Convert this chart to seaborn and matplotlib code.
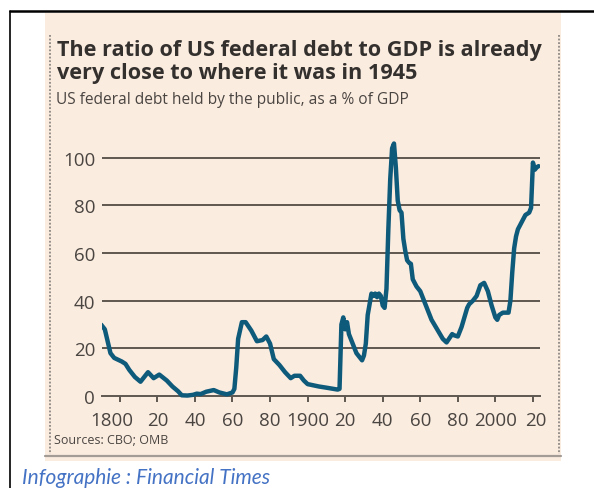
import matplotlib
matplotlib.use("Agg")
import matplotlib.pyplot as plt
import matplotlib.transforms as mtransforms
from matplotlib.lines import Line2D
from matplotlib.patches import Rectangle
import pandas as pd
import seaborn as sns

# US federal debt held by the public, % of GDP
years = [1790, 1792, 1795, 1797, 1801, 1803, 1805, 1808, 1811, 1813, 1815, 1818,
         1821, 1825, 1828, 1831, 1833, 1836, 1839, 1841, 1843, 1846, 1850, 1853,
         1857, 1860, 1861, 1862, 1863, 1865, 1867, 1870, 1873, 1876, 1878, 1880,
         1882, 1885, 1888, 1891, 1893, 1896, 1898, 1900, 1903, 1906, 1910, 1916,
         1917, 1918, 1919, 1920, 1921, 1922, 1926, 1929, 1930, 1931, 1932, 1934,
         1935, 1936, 1937, 1938, 1939, 1940, 1941, 1942, 1943, 1944, 1945, 1946,
         1947, 1948, 1949, 1950, 1951, 1952, 1953, 1954, 1955, 1956, 1958, 1960,
         1963, 1966, 1969, 1972, 1974, 1977, 1978, 1980, 1982, 1985, 1986, 1988,
         1990, 1992, 1994, 1996, 1998, 2000, 2001, 2002, 2004, 2007, 2008, 2009,
         2010, 2011, 2012, 2014, 2016, 2018, 2019, 2020, 2021, 2022, 2023]
debt = [30, 28, 18, 16, 14.5, 13.5, 11, 8, 6, 8, 10, 7.5,
        9, 6.5, 4, 2, 0.3, 0.2, 0.5, 1, 0.8, 1.8, 2.5, 1.5,
        0.7, 1.5, 3, 12, 24, 31, 31, 27.5, 23, 23.5, 25, 22,
        15.5, 13, 10, 7.5, 8.5, 8.5, 6.5, 5, 4.5, 4, 3.5, 2.7,
        3, 30, 33, 28, 31, 26, 18, 15, 17, 22, 34, 43,
        42, 43, 41.5, 43, 42, 38, 37, 45, 70, 91, 104, 106,
        96, 82, 78, 77, 66, 61, 57, 56, 55.5, 49, 46, 44,
        38, 32, 28, 24, 22.5, 26, 25.5, 25, 29, 37, 38.5, 40,
        42, 46.5, 47.5, 44, 38, 33, 32, 34, 35, 35, 40, 52,
        62, 67, 70, 73, 76, 77, 79, 98, 95, 96, 96.5]

x_ticks = [1800, 1820, 1840, 1860, 1880, 1900, 1920, 1940, 1960, 1980, 2000, 2020]
x_labels = ["1800", "20", "40", "60", "80", "1900", "20", "40", "60", "80", "2000", "20"]
y_ticks = [0, 20, 40, 60, 80, 100]

df = pd.DataFrame({"year": years, "debt": debt})

sns.set_theme(style="white")
plt.rcParams["font.family"] = ["Open Sans", "DejaVu Sans"]

bg = "#fbece0"
grid_col = "#5e5751"
text_col = "#33302e"

fig = plt.figure(figsize=(5.94, 4.89), dpi=100)
fig.patch.set_facecolor("white")

# beige panel and frame
fig.patches.append(Rectangle((45 / 594, 1 - 462 / 489), 516 / 594, 448 / 489,
                             transform=fig.transFigure, facecolor=bg, edgecolor="none",
                             zorder=-10))
fig.add_artist(Line2D([10 / 594, 1], [1 - 12 / 489, 1 - 12 / 489], transform=fig.transFigure,
                      color="black", lw=1.8))
fig.add_artist(Line2D([10 / 594, 10 / 594], [0, 1 - 12 / 489], transform=fig.transFigure,
                      color="black", lw=1.2))
for xp in [50, 559]:
    fig.add_artist(Line2D([xp / 594, xp / 594], [1 - 36 / 489, 1 - 455 / 489],
                          transform=fig.transFigure, color="#8d8782", lw=1.3,
                          linestyle=(0, (1, 1))))
fig.add_artist(Line2D([45 / 594, 561 / 594], [1 - 457 / 489, 1 - 457 / 489],
                      transform=fig.transFigure, color="#a39c96", lw=1.6))

ax = fig.add_axes([102 / 594, (489 - 399.4) / 489, 437.5 / 594, 264.4 / 489])
ax.patch.set_alpha(0)
ax.set_zorder(5)

for v in y_ticks[1:]:
    ax.axhline(v, color=grid_col, lw=1.4, zorder=1)

sns.lineplot(data=df, x="year", y="debt", ax=ax, color="#0e5a7b", lw=3.2, zorder=3)

ax.set_xlim(1790.5, 2023.5)
ax.set_ylim(-1, 110)
for s in ["top", "right", "left"]:
    ax.spines[s].set_visible(False)
ax.spines["bottom"].set_position(("data", 0))
ax.spines["bottom"].set_color(grid_col)
ax.spines["bottom"].set_linewidth(1.4)

ax.set_xticks(x_ticks)
ax.set_xticklabels(x_labels)
ax.set_yticks(y_ticks)
ax.set_yticklabels([str(v) for v in y_ticks])
ax.tick_params(axis="x", bottom=True, length=4, width=1.4, color=grid_col, pad=7,
               labelsize=13.5, labelcolor="#4a4541")
ax.tick_params(axis="y", left=False, length=0, pad=5, labelsize=13.5, labelcolor="#4a4541")
ax.set_xlabel("")
ax.set_ylabel("")

# FT nudges the end labels apart from their neighbours
lbls = ax.get_xticklabels()
lbls[0].set_transform(lbls[0].get_transform() +
                      mtransforms.ScaledTranslation(-8 / 100, 0, fig.dpi_scale_trans))
lbls[-1].set_transform(lbls[-1].get_transform() +
                       mtransforms.ScaledTranslation(3 / 100, 0, fig.dpi_scale_trans))

fig.text(57 / 594, 1 - 56 / 489, "The ratio of US federal debt to GDP is already",
         fontsize=15.6, fontweight="bold", color=text_col, va="baseline")
fig.text(57 / 594, 1 - 79 / 489, "very close to where it was in 1945",
         fontsize=15.6, fontweight="bold", color=text_col, va="baseline")
fig.text(56 / 594, 1 - 104 / 489, "US federal debt held by the public, as a % of GDP",
         fontsize=11.2, color="#4a4541", va="baseline")
fig.text(54 / 594, 1 - 444 / 489, "Sources: CBO; OMB", fontsize=9, color="#4a4541",
         va="baseline")
fig.text(22 / 594, 1 - 484 / 489, "Infographie : Financial Times", fontsize=15,
         style="italic", color="#4472c4", va="baseline", family=["Lato", "DejaVu Sans"])

fig.savefig("out.png", dpi=100)
